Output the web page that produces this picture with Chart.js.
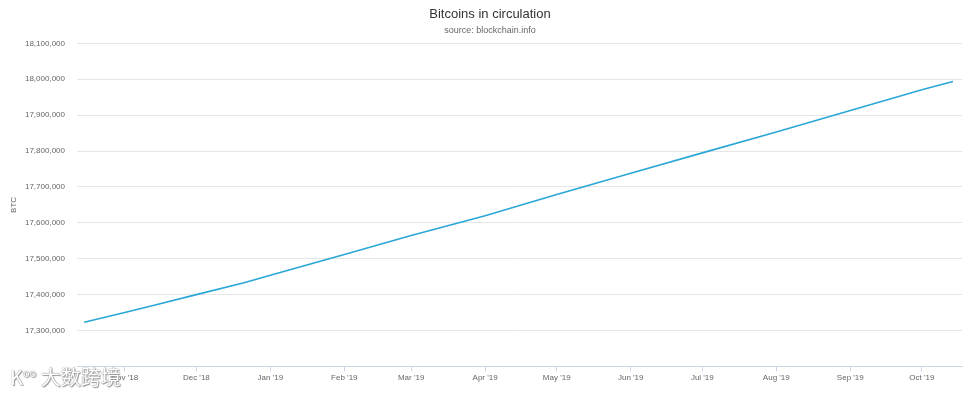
<!DOCTYPE html>
<html>
<head>
<meta charset="utf-8">
<script src="https://cdn.jsdelivr.net/npm/chart.js@4"></script>
<style>
  body { margin: 0; background: #fff; }
  #wrap { position: relative; width: 980px; height: 395px; }
  #mark {
    position: absolute; left: 10px; top: 362px;
    font: 20px "Noto Sans CJK SC", sans-serif; color: #fff;
    text-shadow: 0 0 1px #888, 0 0 1px #888, 1px 1px 1px #999;
    pointer-events: none;
  }
</style>
</head>
<body>
<div id="wrap">
  <canvas id="grafica" width="980" height="395"></canvas>
  <div id="mark">K<sup style="font-size:11px">oo</sup> 大数跨境</div>
</div>
<script>
// --- DATOS ---
const fechas = ['2018-10-15', '2018-11-01', '2018-11-15', '2018-12-01', '2018-12-21', '2019-01-01',
                '2019-02-01', '2019-03-01', '2019-04-01', '2019-05-01', '2019-06-01', '2019-07-01',
                '2019-08-01', '2019-09-01', '2019-10-01', '2019-10-14'];
const btc = [17323000, 17350000, 17373000, 17400000, 17433000, 17454000,
             17512000, 17565000, 17620000, 17679000, 17738000, 17795000,
             17853000, 17913000, 17971000, 17994000];

const mesesFechas = ['2018-11-01', '2018-12-01', '2019-01-01', '2019-02-01', '2019-03-01', '2019-04-01',
                     '2019-05-01', '2019-06-01', '2019-07-01', '2019-08-01', '2019-09-01', '2019-10-01'];
const mesesEtiquetas = ["Nov '18", "Dec '18", "Jan '19", "Feb '19", "Mar '19", "Apr '19",
                        "May '19", "Jun '19", "Jul '19", "Aug '19", "Sep '19", "Oct '19"];

const yTicks = [17200000, 17300000, 17400000, 17500000, 17600000, 17700000, 17800000, 17900000, 18000000, 18100000];

// días desde epoch
function dia(s) {
    const p = s.split('-').map(Number);
    return Date.UTC(p[0], p[1] - 1, p[2]) / 86400000;
}

const puntos = fechas.map((f, i) => ({ x: dia(f), y: btc[i] }));
const diasMes = mesesFechas.map(dia);

const fmt = v => v.toLocaleString('en-US');
const gris = '#666666';
const fuente = 'Liberation Sans, Arial, sans-serif';

new Chart(document.getElementById('grafica'), {
    type: 'line',
    data: {
        datasets: [{
            data: puntos,
            borderColor: '#2aa6d7',
            borderWidth: 1.6,
            pointRadius: 0,
            tension: 0,
            fill: false
        }]
    },
    options: {
        responsive: false,
        animation: false,
        layout: { padding: { left: 0, right: 0, top: 0, bottom: 10 } },
        plugins: {
            legend: { display: false },
            tooltip: { enabled: false },
            title: {
                display: true,
                text: 'Bitcoins in circulation',
                color: '#333333',
                font: { family: fuente, size: 13, weight: 'normal' },
                padding: { top: 7, bottom: 0 }
            },
            subtitle: {
                display: true,
                text: 'source: blockchain.info',
                color: gris,
                font: { family: fuente, size: 9 },
                padding: { top: 3, bottom: 7 }
            }
        },
        scales: {
            x: {
                type: 'linear',
                min: dia('2018-10-12'),
                max: dia('2019-10-17') + 0.8,
                afterBuildTicks: s => { s.ticks = diasMes.map(v => ({ value: v })); },
                ticks: {
                    autoSkip: false,
                    maxRotation: 0,
                    padding: 2,
                    color: gris,
                    font: { family: fuente, size: 8 },
                    callback: v => {
                        const i = diasMes.indexOf(v);
                        return i >= 0 ? mesesEtiquetas[i] : '';
                    }
                },
                grid: { drawOnChartArea: false, drawTicks: true, tickLength: 5, tickColor: '#ccd6eb' },
                border: { display: true, color: '#ccd6eb' }
            },
            y: {
                min: 17200000,
                max: 18100000,
                afterBuildTicks: s => { s.ticks = yTicks.map(v => ({ value: v })); },
                afterFit: s => { s.width = 77; },
                title: {
                    display: true,
                    text: 'BTC',
                    color: gris,
                    font: { family: fuente, size: 8 },
                    padding: { top: 9, bottom: 0 }
                },
                ticks: {
                    padding: 12,
                    color: gris,
                    font: { family: fuente, size: 8 },
                    callback: v => v === 17200000 ? '' : fmt(v)
                },
                grid: { color: '#e6e6e6', drawTicks: false },
                border: { display: false }
            },
            // margen derecho vacío para centrar el título en todo el lienzo
            yDer: {
                position: 'right',
                afterFit: s => { s.width = 18; },
                ticks: { display: false },
                grid: { display: false },
                border: { display: false }
            }
        }
    }
});
</script>
</body>
</html>
